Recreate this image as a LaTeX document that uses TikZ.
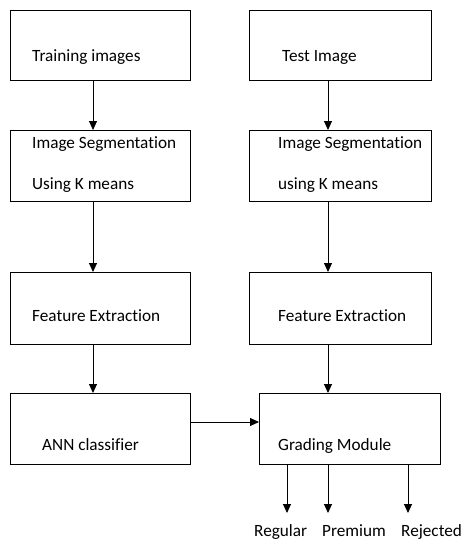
\documentclass[tikz,border=0pt]{standalone}
\usepackage{fontspec}
\setmainfont{Carlito}[RawFeature=-liga]
\usetikzlibrary{arrows.meta}
\begin{document}
\begin{tikzpicture}[x=1pt,y=-1pt,
  box/.style={draw, line width=0.9pt, inner sep=0pt, outer sep=0pt, anchor=north west},
  lbl/.style={anchor=base west, inner sep=0pt, font=\fontsize{17.2}{20}\selectfont},
  arr/.style={-{Triangle[length=9pt,width=8pt]}, line width=0.9pt}]
\useasboundingbox (0,0) rectangle (462,541);
% left column boxes
\node[box, minimum width=180pt, minimum height=70pt] (b1) at (10,10) {};
\node[box, minimum width=180pt, minimum height=71pt] (b2) at (10,130) {};
\node[box, minimum width=180pt, minimum height=72pt] (b3) at (10,272) {};
\node[box, minimum width=180pt, minimum height=71pt] (b4) at (10,393) {};
% right column boxes
\node[box, minimum width=182pt, minimum height=70pt] (c1) at (249,10) {};
\node[box, minimum width=182pt, minimum height=71pt] (c2) at (249,130) {};
\node[box, minimum width=182pt, minimum height=72pt] (c3) at (249,272) {};
\node[box, minimum width=181pt, minimum height=71pt] (c4) at (259,393) {};
% texts
\node[lbl] (t1) at (32,61) {Training images};
\node[lbl] (t2) at (32,148) {Image Segmentation};
\node[lbl] (t2b) at (32,189) {Using K means};
\node[lbl] (t3) at (32,321) {Feature Extraction};
\node[lbl] (t4) at (42,450) {ANN classifier};
\node[lbl] (u1) at (282,61) {Test Image};
\node[lbl] (u2) at (278,148) {Image Segmentation};
\node[lbl] (u2b) at (278,189) {using K means};
\node[lbl] (u3) at (278,321) {Feature Extraction};
\node[lbl] (u4) at (278,450) {Grading Module};
\node[lbl] (r1) at (254,536) {Regular};
\node[lbl] (r2) at (322,536) {Premium};
\node[lbl] (r3) at (401,536) {Rejected};
% connector guides
\coordinate (lx) at (93,0);
\coordinate (rx) at (328,0);
\coordinate (ly) at (0,422);
\coordinate (o1) at (287,513);
\coordinate (o2) at (328,513);
\coordinate (o3) at (408,513);
% connectors
\draw[arr] (lx |- b1.south) -- (lx |- b2.north);
\draw[arr] (lx |- b2.south) -- (lx |- b3.north);
\draw[arr] (lx |- b3.south) -- (lx |- b4.north);
\draw[arr] (rx |- c1.south) -- (rx |- c2.north);
\draw[arr] (rx |- c2.south) -- (rx |- c3.north);
\draw[arr] (rx |- c3.south) -- (rx |- c4.north);
\draw[arr] (b4.east |- ly) -- (c4.west |- ly);
\draw[arr] (o1 |- c4.south) -- (o1);
\draw[arr] (o2 |- c4.south) -- (o2);
\draw[arr] (o3 |- c4.south) -- (o3);
\end{tikzpicture}
\end{document}
